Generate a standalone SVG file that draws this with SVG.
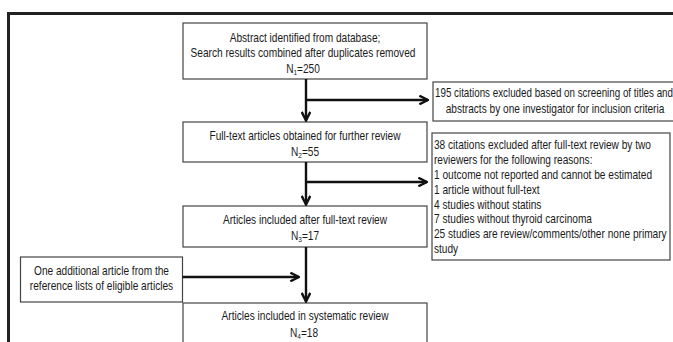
<svg xmlns="http://www.w3.org/2000/svg" width="673" height="342" viewBox="0 0 673 342">
<style>
.box{fill:#fff;stroke:#444;stroke-width:1.2}
.t{font-family:"Liberation Sans",Arial,sans-serif;font-size:12.5px;fill:#1a1a1a}
.c{text-anchor:middle}
.sub{font-size:8px}
.ln{fill:none;stroke:#111;stroke-width:2.4}
.frame{fill:none;stroke:#222;stroke-width:3}
</style>
<defs>
<marker id="ah" viewBox="0 0 10 10" refX="9" refY="5" markerWidth="4.5" markerHeight="4.5" orient="auto" markerUnits="strokeWidth">
<path d="M1,1 L9,5 L1,9" fill="none" stroke="#111" stroke-width="2.2"/>
</marker>
</defs>
<rect width="673" height="342" fill="#fff"/>
<path class="frame" d="M8.5,342 V13.5 H673"/>

<g id="n1">
<rect class="box" x="183" y="23" width="244" height="56"/>
<text class="t c" transform="matrix(0.81,0,0,1,305,0)" x="0" y="42">Abstract identified from database;</text>
<text class="t c" transform="matrix(0.81,0,0,1,303,0)" x="0" y="57.5">Search results combined after duplicates removed</text>
<text class="t c" transform="matrix(0.81,0,0,1,303,0)" x="0" y="73.5">N<tspan class="sub" dy="2">1</tspan><tspan dy="-2">=250</tspan></text>
</g>

<g id="n_excl1">
<rect class="box" x="433" y="82" width="252" height="39"/>
<text class="t" transform="matrix(0.785,0,0,1,435,0)" x="0" y="97.5">195 citations excluded based on screening of titles and</text>
<text class="t c" transform="matrix(0.81,0,0,1,555,0)" x="0" y="113">abstracts by one investigator for inclusion criteria</text>
</g>

<g id="n2">
<rect class="box" x="183" y="122" width="244" height="40"/>
<text class="t c" transform="matrix(0.81,0,0,1,305,0)" x="0" y="140.5">Full-text articles obtained for further review</text>
<text class="t c" transform="matrix(0.81,0,0,1,305,0)" x="0" y="156.5">N<tspan class="sub" dy="2">2</tspan><tspan dy="-2">=55</tspan></text>
</g>

<g id="n_excl2">
<rect class="box" x="432" y="133" width="238" height="127"/>
<g transform="matrix(0.81,0,0,1,434,0)">
<text class="t" x="0" y="149.5">38 citations excluded after full-text review by two</text>
<text class="t" x="0" y="164.3">reviewers for the following reasons:</text>
<text class="t" x="0" y="179.1">1 outcome not reported and cannot be estimated</text>
<text class="t" x="0" y="193.9">1 article without full-text</text>
<text class="t" x="0" y="208.7">4 studies without statins</text>
<text class="t" x="0" y="223.5">7 studies without thyroid carcinoma</text>
<text class="t" x="0" y="238.3">25 studies are review/comments/other none primary</text>
<text class="t" x="0" y="253.1">study</text>
</g>
</g>

<g id="n3">
<rect class="box" x="183" y="206" width="244" height="41"/>
<text class="t c" transform="matrix(0.81,0,0,1,305,0)" x="0" y="224.5">Articles included after full-text review</text>
<text class="t c" transform="matrix(0.81,0,0,1,305,0)" x="0" y="240.5">N<tspan class="sub" dy="2">3</tspan><tspan dy="-2">=17</tspan></text>
</g>

<g id="n_add">
<rect class="box" x="20.5" y="257" width="162" height="45"/>
<text class="t c" transform="matrix(0.81,0,0,1,101.5,0)" x="0" y="275.5">One additional article from the</text>
<text class="t c" transform="matrix(0.81,0,0,1,101.5,0)" x="0" y="290">reference lists of eligible articles</text>
</g>

<g id="n4">
<rect class="box" x="183" y="303" width="244" height="45"/>
<text class="t c" transform="matrix(0.81,0,0,1,305,0)" x="0" y="320.5">Articles included in systematic review</text>
<text class="t c" transform="matrix(0.81,0,0,1,304,0)" x="0" y="337">N<tspan class="sub" dy="2">4</tspan><tspan dy="-2">=18</tspan></text>
</g>

<g id="connectors">
<path class="ln" d="M306,79 V120.5" marker-end="url(#ah)"/>
<path class="ln" d="M306,100 H428" marker-end="url(#ah)"/>
<path class="ln" d="M306,162 V204.5" marker-end="url(#ah)"/>
<path class="ln" d="M306,182 H427" marker-end="url(#ah)"/>
<path class="ln" d="M306,247 V301.5" marker-end="url(#ah)"/>
<path class="ln" d="M182.5,277 H299" marker-end="url(#ah)"/>
</g>
</svg>
